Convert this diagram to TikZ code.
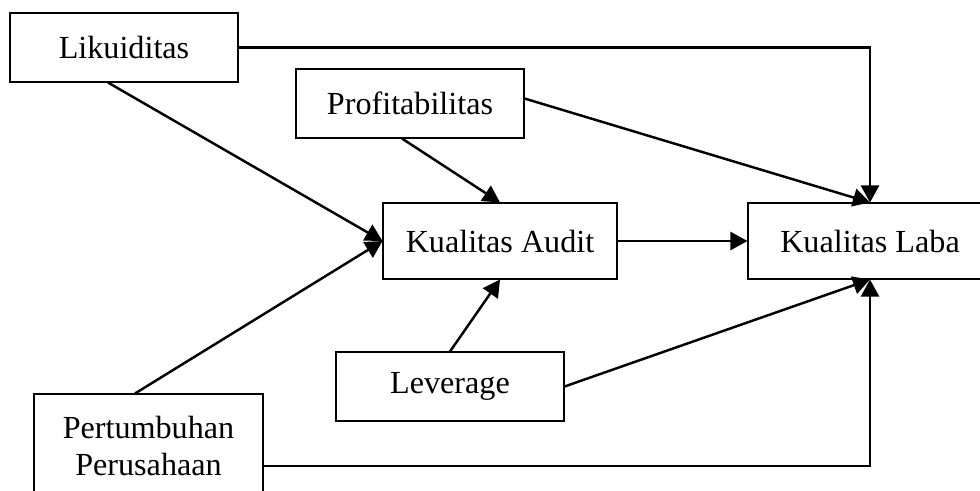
\documentclass[tikz,border=0pt]{standalone}
\usepackage{fontspec}
\setmainfont{Liberation Serif}
\usetikzlibrary{positioning, arrows.meta}

\begin{document}
\begin{tikzpicture}[
		>={Triangle[length=0.34cm, width=0.36cm]},
		var/.style={draw, rectangle, line width=0.6pt, minimum width=4.56cm, minimum height=1.38cm, align=center, font=\fontsize{18.3}{21.6}\selectfont},
		link/.style={->, line width=1.4pt}
		]
		
		% --- CANVAS ---
		\clip (0,0) rectangle (19.6,-9.8);
		
		% --- VARIABLES ---
		\node[var] (lik) at (2.48, -0.95) {Likuiditas};
		\node[var] (prof) at (8.2, -2.07) {Profitabilitas};
		\node[var, minimum width=4.68cm, minimum height=1.52cm] (audit) at (10.0, -4.82) {Kualitas Audit};
		\node[var, minimum width=4.88cm, minimum height=1.52cm] (laba) at (17.4, -4.82) {Kualitas Laba};
		\node[var] (lev) at (9.0, -7.73) {Leverage};
		\node[var, minimum width=4.58cm, minimum height=2.08cm] (pert) at (2.97, -8.92) {Pertumbuhan\\Perusahaan};
		
		% --- PATHS TO KUALITAS AUDIT ---
		\draw[link] ([xshift=-0.32cm]lik.south) -- (audit.west);
		\draw[link] ([xshift=-0.27cm]pert.north) -- (audit.west);
		\draw[link] ([xshift=-0.16cm]prof.south) -- (audit.north);
		\draw[link] (lev.north) -- (audit.south);
		
		% --- PATHS TO KUALITAS LABA ---
		\draw[link] (lik.east) -| (laba.north);
		\draw[link] ([yshift=0.1cm]prof.east) -- (laba.north);
		\draw[link] (audit.east) -- (laba.west);
		\draw[link] (lev.east) -- (laba.south);
		\draw[link] ([yshift=-0.4cm]pert.east) -| (laba.south);
		
	\end{tikzpicture}
\end{document}
